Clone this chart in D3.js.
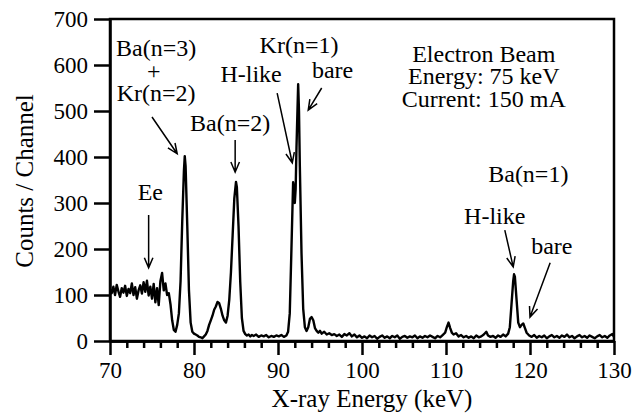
<!DOCTYPE html>
<html>
<head>
<meta charset="utf-8">
<script src="https://cdn.jsdelivr.net/npm/d3@7"></script>
<style>
  body { margin: 0; background: #fff; }
</style>
</head>
<body>
<div id="chart"></div>
<script>
// spectrum: [keV, counts]
var lowEnd = [
  [70.0,112],[70.2,104],[70.4,118],[70.6,100],[70.8,122],[71.0,108],[71.2,96],[71.4,115],
  [71.6,105],[71.8,120],[72.0,98],[72.2,113],[72.4,104],[72.6,125],[72.8,100],[73.0,117],
  [73.2,92],[73.4,110],[73.6,121],[73.8,103],[74.0,128],[74.2,107],[74.4,131],[74.6,99],
  [74.8,118],[75.0,92],[75.2,124],[75.4,84],[75.6,115],[75.8,78],[76.0,130],[76.2,148],
  [76.4,110],[76.6,125],[76.8,100],[77.0,104],[77.2,80],[77.4,45],[77.6,24],[77.8,20]
];
var bariumL = [
  [78.0,35],[78.2,60],[78.4,130],[78.6,260],[78.8,370],[78.9,402],[79.0,380],[79.2,250],
  [79.4,110],[79.6,40],[79.8,20],[80.0,16],[80.2,14],[80.4,12],[80.6,9],[80.8,8],[81.0,6],
  [81.2,10],[81.4,14],[81.6,22],[81.8,35],[82.0,45],[82.2,55],[82.4,68],[82.6,75],[82.8,85],
  [83.0,82],[83.2,70],[83.4,55],[83.6,45],[83.8,40],[84.0,55],[84.2,90],[84.4,150],[84.6,230],
  [84.8,310],[85.0,346],[85.1,335],[85.3,250],[85.5,130],[85.7,50],[85.9,22],[86.1,15],
  [86.3,12],[86.5,14],[86.7,10],[86.9,13],[87.1,11],[87.4,14],[87.7,9],[88.0,12],[88.3,10],
  [88.6,13],[88.9,8],[89.2,11],[89.5,9],[89.8,12],[90.1,10],[90.4,13],[90.7,9],[91.0,12]
];
var kryptonK = [
  [91.2,20],[91.4,60],[91.6,200],[91.8,345],[91.9,330],[92.0,300],[92.1,330],[92.2,420],
  [92.4,558],[92.5,500],[92.6,380],[92.8,190],[93.0,70],[93.2,30],[93.4,22],[93.6,30],
  [93.8,48],[94.0,52],[94.2,45],[94.4,28],[94.6,22],[94.8,18],[95.0,22],[95.2,16],[95.5,20],
  [95.8,14],[96.1,17],[96.4,13],[96.7,15],[97.0,11],[97.3,14],[97.6,9],[97.9,15],[98.2,12],
  [98.5,17],[98.8,10],[99.1,14],[99.4,8],[99.7,12],[100.0,7]
];
var highEnd = [
  [100.3,10],[100.6,6],[100.9,12],[101.2,8],[101.5,11],[101.8,5],[102.1,9],[102.4,12],
  [102.7,7],[103.0,10],[103.3,6],[103.6,11],[103.9,8],[104.2,12],[104.5,5],[104.8,9],
  [105.1,11],[105.4,7],[105.7,10],[106.0,8],[106.3,12],[106.6,6],[106.9,10],[107.2,7],
  [107.5,11],[107.8,8],[108.1,12],[108.4,9],[108.7,6],[109.0,11],[109.3,8],[109.6,13],
  [109.9,18],[110.1,30],[110.3,40],[110.5,28],[110.7,18],[110.9,14],[111.2,17],[111.5,10],
  [111.8,13],[112.1,8],[112.4,11],[112.7,7],[113.0,10],[113.3,6],[113.6,12],[113.9,8],
  [114.2,10],[114.5,14],[114.8,20],[115.0,12],[115.3,9],[115.6,11],[115.9,7],[116.2,12],
  [116.5,9],[116.8,14],[117.1,10],[117.4,16],[117.6,30],[117.8,80],[118.0,130],[118.1,145],
  [118.2,140],[118.4,90],[118.6,40],[118.8,30],[119.0,35],[119.2,38],[119.4,28],[119.6,18],
  [119.9,12],[120.2,9],[120.5,13],[120.8,7],[121.1,11],[121.4,8],[121.7,12],[122.0,6],
  [122.3,10],[122.6,13],[122.9,8],[123.2,11],[123.5,7],[123.8,12],[124.1,9],[124.4,14],
  [124.7,8],[125.0,11],[125.3,6],[125.6,10],[125.9,13],[126.2,8],[126.5,11],[126.8,7],
  [127.1,12],[127.4,9],[127.7,6],[128.0,10],[128.3,13],[128.6,8],[128.9,11],[129.2,7],
  [129.5,12],[129.8,15],[130.0,9]
];

var xTicks = [70, 80, 90, 100, 110, 120, 130];
var xMinor = [72, 74, 76, 78, 82, 84, 86, 88, 92, 94, 96, 98, 102, 104, 106, 108,
              112, 114, 116, 118, 122, 124, 126, 128];
var yTicks = [0, 100, 200, 300, 400, 500, 600, 700];

// label blocks: each block is one text, lines are [text, keV, counts at baseline]
var labels = [
  [["Ba(n=3)", 75.5, 620], ["+", 75.2, 570], ["Kr(n=2)", 75.5, 522]],
  [["Ba(n=2)", 84.3, 457]],
  [["H-like", 86.8, 563]],
  [["Kr(n=1)", 92.5, 626]],
  [["bare", 96.5, 572]],
  [["Ee", 74.8, 307]],
  [["Electron Beam", 114.5, 607], ["Energy: 75 keV", 114.5, 559], ["Current: 150 mA", 114.5, 509]],
  [["Ba(n=1)", 119.8, 346]],
  [["H-like", 115.8, 254]],
  [["bare", 122.6, 189]]
];
// arrows: from keV, counts -> to keV, counts
var arrows = [
  [75.0, 487, 78.0, 407], [84.9, 437, 84.9, 367], [89.9, 539, 91.7, 387],
  [95.2, 550, 93.6, 502], [74.6, 274, 74.6, 159],
  [117.0, 241, 118.0, 161], [122.4, 170, 120.0, 52]
];

var serif = "'Liberation Serif'";
var w = 635, h = 415;
var svg = d3.select("#chart").append("svg")
  .attr("width", w)
  .attr("height", h);

var x = d3.scaleLinear().domain([70, 130]).range([110, 614]);
var y = d3.scaleLinear().domain([0, 700]).range([341, 19]);

var spectrum = lowEnd.concat(bariumL, kryptonK, highEnd);

var line = d3.line()
  .x(d => x(d[0]))
  .y(d => y(d[1]));

svg.append("path")
  .datum(spectrum)
  .attr("d", line)
  .attr("fill", "none")
  .attr("stroke", "#000")
  .attr("stroke-width", 2.4)
  .attr("stroke-linejoin", "round");

// frame
svg.append("rect")
  .attr("x", x(70)).attr("y", y(700))
  .attr("width", x(130) - x(70)).attr("height", y(0) - y(700))
  .attr("fill", "none")
  .attr("stroke", "#000")
  .attr("stroke-width", 2.5);

// x axis
svg.append("g")
  .attr("transform", "translate(0," + y(0) + ")")
  .call(d3.axisBottom(x).tickValues(xTicks).tickSize(14).tickSizeOuter(0).tickPadding(7));
svg.append("g")
  .attr("transform", "translate(0," + y(0) + ")")
  .call(d3.axisBottom(x).tickValues(xMinor).tickSize(7).tickSizeOuter(0).tickFormat(""));

// y axis
svg.append("g")
  .attr("transform", "translate(" + x(70) + ",0)")
  .call(d3.axisLeft(y).tickValues(yTicks).tickSize(16).tickSizeOuter(0).tickPadding(6));

svg.selectAll("g").attr("font-family", null).attr("font-size", null);
svg.selectAll(".domain").attr("stroke-width", 2.5);
svg.selectAll(".tick line").attr("stroke", "#000").attr("stroke-width", 2.5);
svg.selectAll(".tick text")
  .style("font-family", serif)
  .style("font-size", "23px")
  .attr("fill", "#000");

// axis titles
svg.append("text")
  .attr("x", 372)
  .attr("y", 407)
  .attr("text-anchor", "middle")
  .style("font-family", serif)
  .style("font-size", "25px")
  .text("X-ray Energy (keV)");

svg.append("text")
  .attr("transform", "translate(33,181) rotate(-90)")
  .attr("text-anchor", "middle")
  .style("font-family", serif)
  .style("font-size", "25px")
  .text("Counts / Channel");

// annotations
svg.selectAll(".lbl")
  .data(labels)
  .enter().append("text")
  .attr("class", "lbl")
  .attr("text-anchor", "middle")
  .style("font-family", serif)
  .style("font-size", "24px")
  .selectAll("tspan")
  .data(d => d)
  .enter().append("tspan")
  .attr("x", d => x(d[1]))
  .attr("y", d => y(d[2]))
  .text(d => d[0]);

function arrowPath(d) {
  var x1 = x(d[0]), y1 = y(d[1]), x2 = x(d[2]), y2 = y(d[3]);
  var a = Math.atan2(y2 - y1, x2 - x1), len = 11, sp = 0.4;
  var p = "M" + x1 + "," + y1 + "L" + x2 + "," + y2;
  p += "M" + (x2 - len * Math.cos(a - sp)) + "," + (y2 - len * Math.sin(a - sp));
  p += "L" + x2 + "," + y2;
  p += "L" + (x2 - len * Math.cos(a + sp)) + "," + (y2 - len * Math.sin(a + sp));
  return p;
}

svg.selectAll(".arrow")
  .data(arrows)
  .enter().append("path")
  .attr("class", "arrow")
  .attr("d", arrowPath)
  .attr("fill", "none")
  .attr("stroke", "#000")
  .attr("stroke-width", 1.5);
</script>
</body>
</html>
